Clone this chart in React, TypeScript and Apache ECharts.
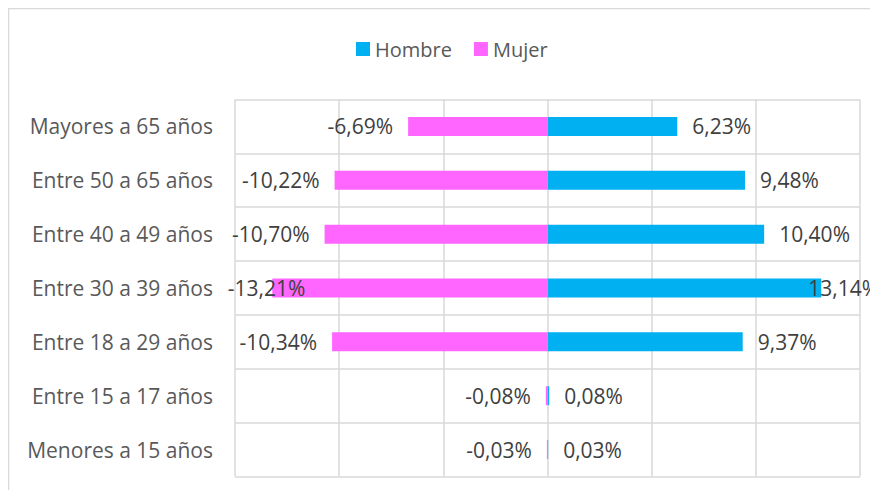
import React, { useEffect, useRef } from "react";
import * as echarts from "echarts";

const categories = [
  "Mayores a 65 años",
  "Entre 50 a 65 años",
  "Entre 40 a 49 años",
  "Entre 30 a 39 años",
  "Entre 18 a 29 años",
  "Entre 15 a 17 años",
  "Menores a 15 años",
];
const hombre = [6.23, 9.48, 10.4, 13.14, 9.37, 0.08, 0.03];
const mujer = [-6.69, -10.22, -10.7, -13.21, -10.34, -0.08, -0.03];

const fmt = (v: number) => v.toFixed(2).replace(".", ",") + "%";
const FONT = "Open Sans";

export default function App() {
  const ref = useRef<HTMLDivElement>(null);
  useEffect(() => {
    if (!ref.current) return;
    document.documentElement.style.overflow = "hidden";
    const chart = echarts.init(ref.current, undefined, { renderer: "svg" });
    const labelBase = {
      show: true,
      color: "#404040",
      fontSize: 21,
      fontFamily: FONT,
      distance: 15,
      formatter: (p: any) => fmt(p.value),
    };
    chart.setOption({
      animation: false,
      backgroundColor: "#fff",
      graphic: [
        {
          type: "rect",
          shape: { x: 0.5, y: 0.5, width: 2000, height: 2000 },
          style: { fill: "none", stroke: "#d9d9d9", lineWidth: 1.5 },
          silent: true,
        },
      ],
      legend: {
        data: ["Hombre", "Mujer"],
        top: 26,
        left: 343,
        itemWidth: 14,
        itemHeight: 14,
        itemGap: 22,
        icon: "rect",
        textStyle: { color: "#595959", fontSize: 20, fontFamily: FONT, padding: [0, 0, 0, 0] },
      },
      grid: { left: 227, right: 18, top: 91.5, bottom: 13.5, containLabel: false },
      xAxis: {
        type: "value",
        min: -15,
        max: 15,
        interval: 5,
        axisLabel: { show: false },
        axisLine: { show: false },
        axisTick: { show: false },
        splitLine: { lineStyle: { color: "#d9d9d9", width: 1.5 } },
      },
      yAxis: {
        type: "category",
        data: categories,
        inverse: true,
        axisTick: { show: false },
        axisLine: { show: false },
        splitLine: { show: true, lineStyle: { color: "#d9d9d9", width: 1.5 } },
        splitArea: { show: false },
        axisLabel: { color: "#595959", fontSize: 21, fontFamily: FONT, margin: 22 },
        boundaryGap: true,
      },
      series: [
        {
          name: "Hombre",
          type: "bar",
          data: hombre.map((v, i) =>
            i === 3 ? { value: v, label: { offset: [-28, 0] } } : v
          ),
          barWidth: 19,
          barGap: "-100%",
          itemStyle: { color: "#00B0F0" },
          label: { ...labelBase, position: "right" },
        },
        {
          name: "Mujer",
          type: "bar",
          data: mujer.map((v, i) =>
            i === 3 ? { value: v, label: { offset: [48, 0] } } : v
          ),
          barWidth: 19,
          itemStyle: { color: "#FF66FF" },
          label: { ...labelBase, position: "left" },
        },
      ],
    });
    return () => chart.dispose();
  }, []);
  return <div ref={ref} style={{ width: 870, height: 482 }} />;
}
